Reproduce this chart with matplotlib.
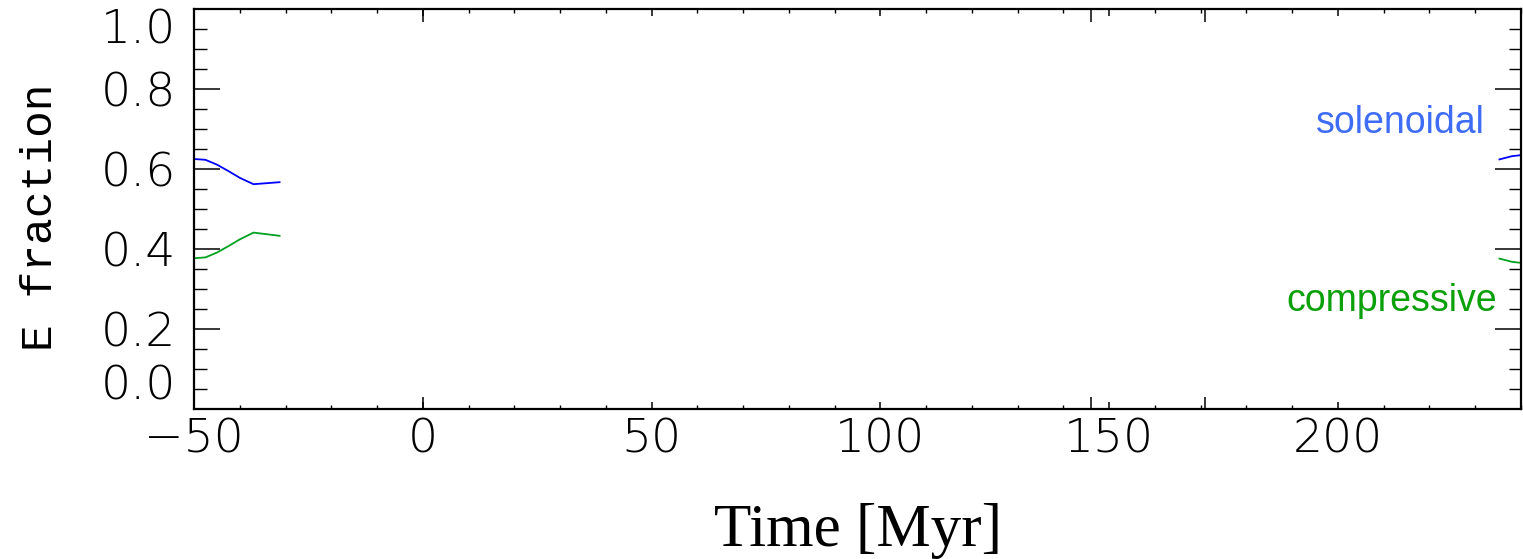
import matplotlib
matplotlib.use("Agg")
import matplotlib.pyplot as plt
from matplotlib.ticker import MultipleLocator

# energy fractions
t_early = [-50.0, -47.5, -45.0, -42.5, -40.0, -37.0, -31.3]
sol_early = [0.625, 0.623, 0.611, 0.595, 0.578, 0.562, 0.567]
comp_early = [0.377, 0.379, 0.391, 0.407, 0.424, 0.441, 0.433]

t_late = [235.3, 238.0, 241.0]
sol_late = [0.624, 0.632, 0.636]
comp_late = [0.376, 0.368, 0.364]

event_times = [0, 146, 171]

x_ticks = [-50, 0, 50, 100, 150, 200]
y_ticks = [0.0, 0.2, 0.4, 0.6, 0.8, 1.0]

tick_font = dict(family="DejaVu Sans", weight=200, size=34)

fig = plt.figure(figsize=(15.23, 5.59), dpi=100)
ax = fig.add_axes([194 / 1523, 150 / 559, 1327 / 1523, 400 / 559])

ax.plot(t_early, sol_early, color="#0000ff", lw=1.3)
ax.plot(t_early, comp_early, color="#00a020", lw=1.3)
ax.plot(t_late, sol_late, color="#0000ff", lw=1.3)
ax.plot(t_late, comp_late, color="#00a020", lw=1.3)

ax.text(232, 0.715, "solenoidal", color="#3f6cf5", ha="right", va="center",
        family="Liberation Sans", size=27)
ax.text(234.7, 0.27, "compressive", color="#0aa00a", ha="right", va="center",
        family="Liberation Sans", size=27)

ax.set_xlim(-50, 240)
ax.set_ylim(0, 1)

for s in ax.spines.values():
    s.set_linewidth(1.6)

ax.set_xticks(x_ticks)
ax.set_xticklabels(["\u221250", "0", "50", "100", "150", "200"], fontdict=tick_font)
ax.xaxis.set_minor_locator(MultipleLocator(10))
ax.set_yticks(y_ticks)
ax.set_yticklabels(["%.1f" % v for v in y_ticks], fontdict=tick_font)
ax.yaxis.set_minor_locator(MultipleLocator(0.05))

ax.tick_params(axis="x", which="major", direction="in", length=5, width=1.1,
               top=True, pad=6)
ax.tick_params(axis="x", which="minor", direction="in", length=3, width=1.0, top=True)
ax.tick_params(axis="y", which="major", direction="in", length=19, width=1.1,
               right=True, pad=13)
ax.tick_params(axis="y", which="minor", direction="in", length=9, width=1.0, right=True)

# end labels sit inside the frame
ylabs = ax.get_yticklabels()
ylabs[0].set_va("bottom")
ylabs[-1].set_va("top")

# short marks for event times on bottom and top
for side in ["bottom", "top"]:
    sec = ax.secondary_xaxis(side)
    sec.set_xticks(event_times)
    sec.tick_params(direction="in", length=9, width=1.1, labelbottom=False,
                    labeltop=False)
    sec.spines[side].set_visible(False)

ax.set_xlabel("Time [Myr]", family="Liberation Serif", size=44)
ax.xaxis.set_label_coords(0.5, -0.235)
ax.set_ylabel("E fraction", family="Liberation Mono", size=32)
ax.yaxis.label.set_va("center")
ax.yaxis.set_label_coords(-0.116, 0.48)

fig.savefig("out.png", dpi=100)
